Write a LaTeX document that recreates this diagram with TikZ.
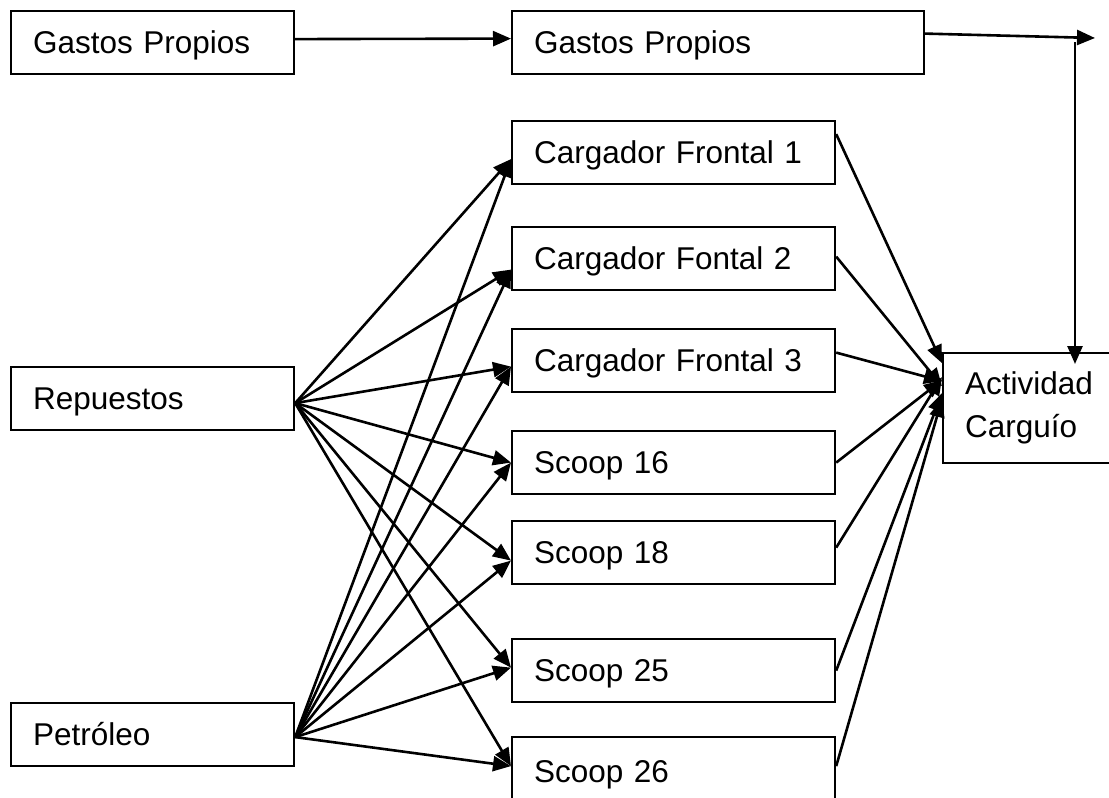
\documentclass[tikz,border=0pt]{standalone}
\usepackage{fontspec}
\setmainfont{Liberation Sans}
\usetikzlibrary{arrows.meta,calc}
\begin{document}
\begin{tikzpicture}[x=1pt,y=-1pt,
  basebox/.style={draw,line width=2.2pt,rectangle,anchor=north west,
    inner xsep=22pt,inner ysep=0pt,align=left,
    font=\fontsize{31.5}{43}\selectfont},
  box/.style={basebox,text height=22pt,text depth=0pt,minimum height=63pt},
  leftbox/.style={box,text width=239pt},
  midbox/.style={box,text width=279pt},
  con/.style={line width=2.6pt,-{Triangle[length=18pt,width=15pt]}}
]
\useasboundingbox (0,0) rectangle (1109,798);
\fill[white] (0,0) rectangle (1109,798);
\clip (0,0) rectangle (1109,798);

% sources
\node[leftbox] (g1)  at (10,10)  {Gastos Propios};
\node[leftbox] (rep) at (10,366) {Repuestos};
\node[leftbox] (pet) at (10,702) {Petróleo};

% cost objects
\node[box,text width=368pt] (g2) at (511,10) {Gastos Propios};
\node[midbox] (cf1) at (511,120) {Cargador Frontal 1};
\node[midbox] (cf2) at (511,226) {Cargador Fontal 2};
\node[midbox] (cf3) at (511,328) {Cargador Frontal 3};
\node[midbox] (s16) at (511,430) {Scoop 16};
\node[midbox] (s18) at (511,520) {Scoop 18};
\node[midbox] (s25) at (511,638) {Scoop 25};
\node[midbox,minimum height=68pt] (s26) at (511,736) {Scoop 26};

% activity
\node[basebox,text width=156pt,minimum height=110pt] (act) at (942,352) {Actividad\\Carguío};

% own expenses
\draw[con] ([yshift=3.5pt]g1.east) -- ([yshift=4pt]g2.west);
\coordinate (corner) at (1095,38);
\coordinate (vtop) at (1075,42);
\draw[con] ([yshift=9pt]g2.east) -- (corner);
\draw[con] (vtop) -- ($(vtop |- act.north)+(0,12)$);

% spare parts and fuel into each machine
\foreach \t/\s in {cf1/-6.5, cf2/-11, cf3/-6, s16/0, s18/-8, s25/3, s26/5} {
  \draw[con] ([yshift=-4.5pt]rep.east) -- ([yshift=\s pt]\t.west);
  \draw[con] ([yshift=-2.5pt]pet.east) -- ([yshift=\s pt]\t.west);
}

% machines into the loading activity
\foreach \t/\a/\b in {cf1/18.5/45, cf2/2/22, cf3/8/27, s16/0/28, s18/5/31, s25/0/15, s26/5/9}
  \draw[con] ([yshift=\a pt]\t.east) -- ([yshift=\b pt]act.west);
\end{tikzpicture}
\end{document}
